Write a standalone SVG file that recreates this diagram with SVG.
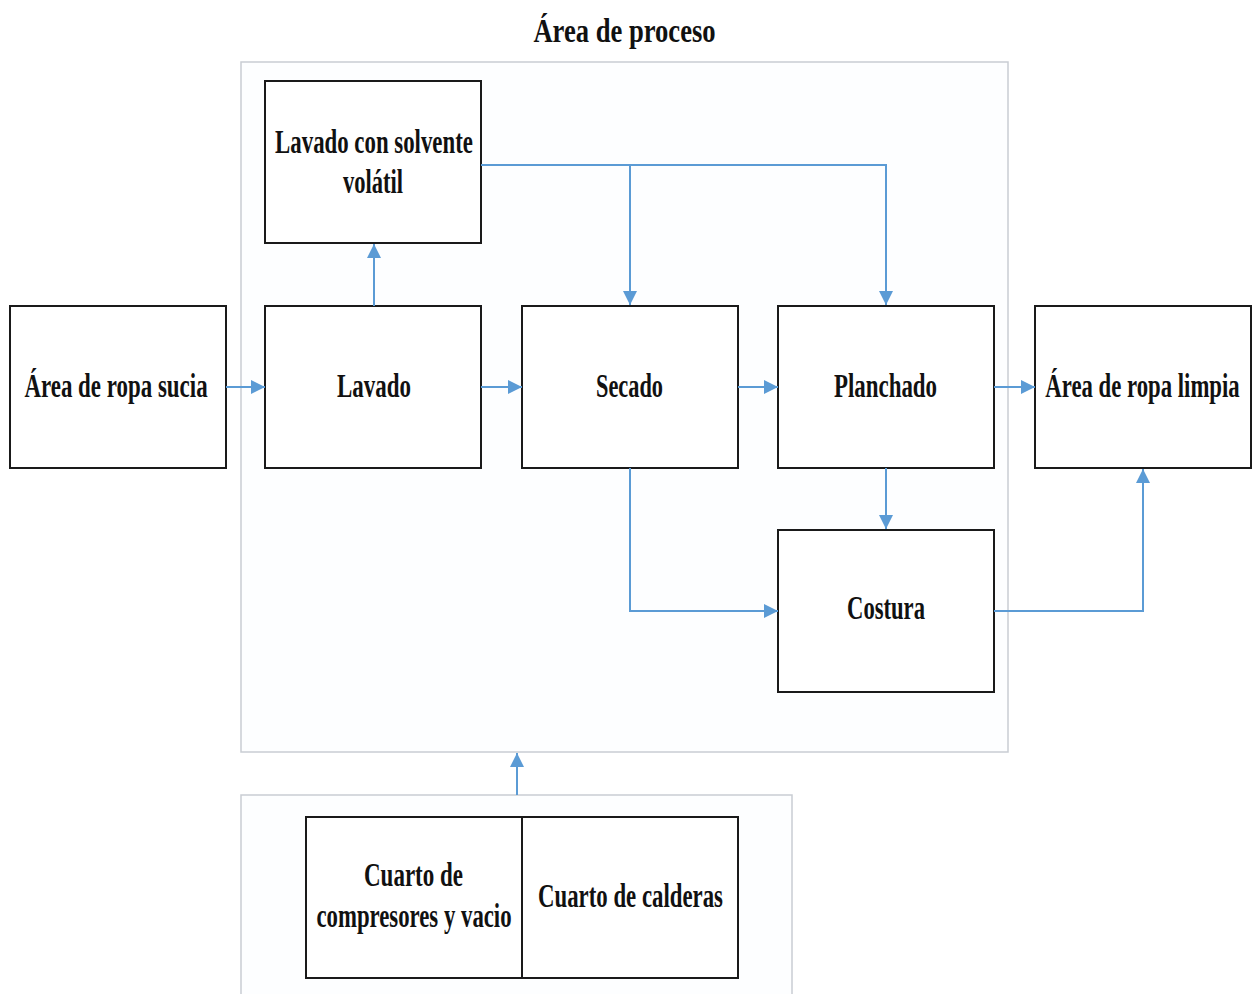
<svg xmlns="http://www.w3.org/2000/svg" width="1253" height="994" viewBox="0 0 1253 994">
<defs>
<style>
.box{fill:#ffffff;stroke:#1a1a1a;stroke-width:2}
.area{fill:#fdfeff;stroke:#c9cdd3;stroke-width:1.5}
.t{font-family:"Liberation Serif","Times New Roman",serif;font-weight:bold;font-size:33px;fill:#111;text-anchor:middle}
.c{fill:none;stroke:#5b9bd5;stroke-width:2}
</style>
<marker id="ah" viewBox="0 0 10 10" refX="10" refY="5" markerWidth="14" markerHeight="14" markerUnits="userSpaceOnUse" orient="auto">
<path d="M0,0 L10,5 L0,10 Z" fill="#5b9bd5"/>
</marker>
</defs>
<rect width="1253" height="994" fill="#ffffff"/>
<g id="title"><text class="t" transform="translate(624.5,42) scale(0.806,1)">Área de proceso</text></g>
<g id="process-area"><rect class="area" x="241" y="62" width="767" height="690"/></g>
<g id="services-area"><rect class="area" x="241" y="795" width="551" height="220"/></g>
<g id="solvente"><rect class="box" x="265" y="81" width="216" height="162"/>
<text class="t" transform="translate(374,153) scale(0.692,1)">Lavado con solvente</text>
<text class="t" transform="translate(373,193) scale(0.682,1)">volátil</text></g>
<g id="sucia"><rect class="box" x="10" y="306" width="216" height="162"/>
<text class="t" transform="translate(116,397) scale(0.695,1)">Área de ropa sucia</text></g>
<g id="lavado"><rect class="box" x="265" y="306" width="216" height="162"/>
<text class="t" transform="translate(374,397) scale(0.696,1)">Lavado</text></g>
<g id="secado"><rect class="box" x="522" y="306" width="216" height="162"/>
<text class="t" transform="translate(629.5,397) scale(0.677,1)">Secado</text></g>
<g id="planchado"><rect class="box" x="778" y="306" width="216" height="162"/>
<text class="t" transform="translate(885.5,397) scale(0.694,1)">Planchado</text></g>
<g id="limpia"><rect class="box" x="1035" y="306" width="216" height="162"/>
<text class="t" transform="translate(1142.5,397) scale(0.689,1)">Área de ropa limpia</text></g>
<g id="costura"><rect class="box" x="778" y="530" width="216" height="162"/>
<text class="t" transform="translate(886,619) scale(0.686,1)">Costura</text></g>
<g id="compresores"><rect class="box" x="306" y="817" width="216" height="161"/>
<text class="t" transform="translate(413.5,886) scale(0.697,1)">Cuarto de</text>
<text class="t" transform="translate(414,927) scale(0.69,1)">compresores y vacio</text></g>
<g id="calderas"><rect class="box" x="522" y="817" width="216" height="161"/>
<text class="t" transform="translate(630.5,907) scale(0.691,1)">Cuarto de calderas</text></g>
<g id="connectors">
<path class="c" d="M226,387 H265" marker-end="url(#ah)"/>
<path class="c" d="M481,387 H522" marker-end="url(#ah)"/>
<path class="c" d="M738,387 H778" marker-end="url(#ah)"/>
<path class="c" d="M994,387 H1035" marker-end="url(#ah)"/>
<path class="c" d="M374,306 V244" marker-end="url(#ah)"/>
<path class="c" d="M481,165 H886 V305" marker-end="url(#ah)"/>
<path class="c" d="M630,165 V305" marker-end="url(#ah)"/>
<path class="c" d="M886,468 V529" marker-end="url(#ah)"/>
<path class="c" d="M630,468 V611 H778" marker-end="url(#ah)"/>
<path class="c" d="M994,611 H1143 V469" marker-end="url(#ah)"/>
<path class="c" d="M517,795 V753" marker-end="url(#ah)"/>
</g>
</svg>
